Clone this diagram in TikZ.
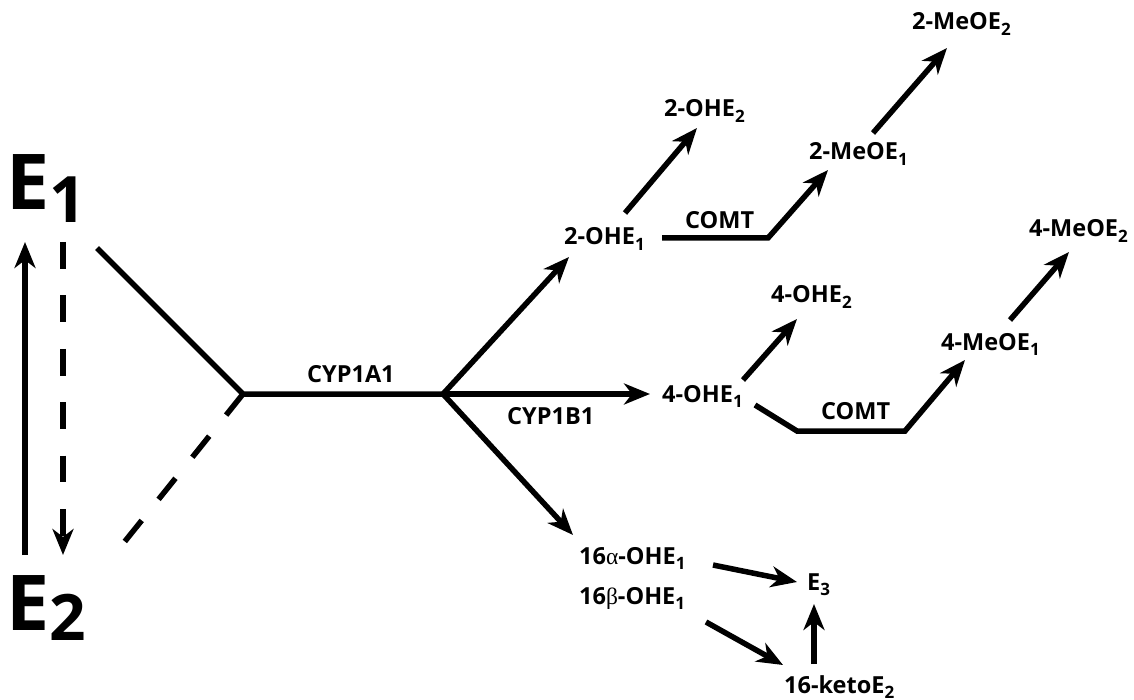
\documentclass[tikz,border=0pt]{standalone}
\usepackage{fontspec}
\setmainfont{Open Sans}
\newfontfamily\greekf{Liberation Serif}
\usetikzlibrary{arrows.meta}
\newcommand\sbs[1]{\raisebox{-0.22em}{\fontsize{17}{17}\selectfont #1}}
\begin{document}
\begin{tikzpicture}[x=1pt,y=-1pt,
  lbl/.style={anchor=base west, inner sep=0pt, font=\fontsize{23.5}{23.5}\selectfont\bfseries},
  big/.style={anchor=base west, inner sep=0pt, font=\fontsize{77}{77}\selectfont\bfseries},
  ln/.style={line width=5.5pt},
  arr/.style={ln, -{Stealth[length=26pt,width=21pt,inset=8pt]}},
  dsh/.style={ln, dash pattern=on 27pt off 27pt}]
\useasboundingbox (0,0) rectangle (1134,700);
% texts
\node[big] (E1) at (6,210) {E\raisebox{-13pt}{\fontsize{64}{64}\selectfont 1}};
\node[big] (E2) at (6,630) {E\raisebox{-10pt}{\fontsize{64}{64}\selectfont 2}};
\node[lbl] (cyp1a1) at (307,382) {CYP1A1};
\node[lbl] (cyp1b1) at (507,424) {CYP1B1};
\node[lbl] (oh2e1) at (564,245) {2-OHE\sbs{1}};
\node[lbl] (oh2e2) at (664,117) {2-OHE\sbs{2}};
\node[lbl] (comt1) at (685,229) {COMT};
\node[lbl] (me2e1) at (809,160) {2-MeOE\sbs{1}};
\node[lbl] (me2e2) at (912,30) {2-MeOE\sbs{2}};
\node[lbl] (oh4e1) at (662,402) {4-OHE\sbs{1}};
\node[lbl] (oh4e2) at (771,303) {4-OHE\sbs{2}};
\node[lbl] (comt2) at (821,419) {COMT};
\node[lbl] (me4e1) at (941,350) {4-MeOE\sbs{1}};
\node[lbl] (me4e2) at (1029,237) {4-MeOE\sbs{2}};
\node[lbl] (a16) at (579,564) {16{\greekf\mdseries α}-OHE\sbs{1}};
\node[lbl] (b16) at (579,604) {16{\greekf\mdseries β}-OHE\sbs{1}};
\node[lbl] (E3) at (807,590) {E\sbs{3}};
\node[lbl] (keto) at (784,693) {16-ketoE\sbs{2}};
% coordinates
\coordinate (e1top) at (25,242);
\coordinate (e2bot) at (25,555);
\coordinate (d1top) at (63,242);
\coordinate (d2bot) at (63,555);
\coordinate (e1out) at (97,248);
\coordinate (e2out) at (122,545);
\coordinate (j1) at (243,394);
\coordinate (j2) at (443,394);
\coordinate (t2oh) at (569,257);
\coordinate (t4oh) at (650,394);
\coordinate (t16) at (573,535);
% left part
\draw[arr] (e2bot) -- (e1top);
\draw[arr, dash pattern=on 26.7pt off 26.7pt] (d1top) -- (d2bot);
\draw[ln, miter limit=10] (e1out) -- (j1) -- (j2);
\draw[dsh] (j1) -- (e2out);
% branches
\draw[ln, {Stealth[length=26pt,width=21pt,inset=8pt]}-{Stealth[length=26pt,width=21pt,inset=8pt]}, miter limit=10] (t2oh) -- (j2) -- (t16);
\draw[arr] (j2) -- (t4oh);
% 2-OH branch
\draw[arr] (625,213) -- (697,128);
\draw[arr] (662,238) -- (768,238) -- (828,170);
\draw[arr] (873,133) -- (947,48);
% 4-OH branch
\draw[arr] (743,380) -- (797,319);
\draw[arr] (755,405) -- (797,431) -- (905,431) -- (965,360);
\draw[arr] (1010,320) -- (1069,252);
% 16-OH branch
\draw[arr] (713,565) -- (797,582);
\draw[arr] (706,622) -- (783,665);
\draw[arr] (814,664) -- (814,604);
\end{tikzpicture}
\end{document}
